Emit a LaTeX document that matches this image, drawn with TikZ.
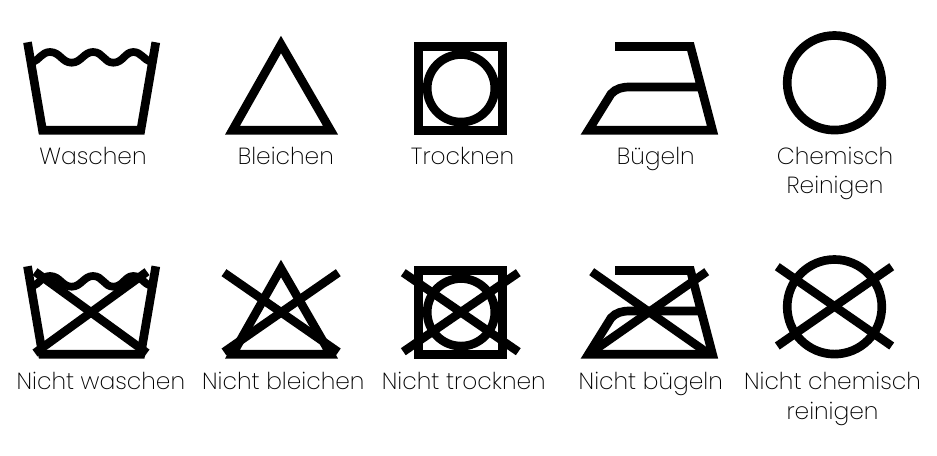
\documentclass[tikz,border=0pt]{standalone}
\usepackage{fontspec}
\setmainfont{Poppins}[UprightFont={* ExtraLight}]
\tikzset{
  sym/.style={draw=black,line width=6.5pt,miter limit=20,line join=miter,line cap=butt},
  wave/.style={draw=black,line width=5.8pt,line join=round},
  xbar/.style={draw=black,line width=6.4pt,line cap=butt},
  lab/.style={anchor=base,inner sep=0pt,font=\fontsize{17.5pt}{20pt}\selectfont,text=black},
  tub/.pic={
    \draw[sym] (27.5,42.3) -- (42.5,130.2) -- (140.8,130.2) -- (155.8,42.3);
    \draw[wave] (33,62) .. controls (39,60) and (42,52) .. (50,52)
      .. controls (60,52) and (62,62.7) .. (71.7,62.7)
      .. controls (81,62.7) and (84,52) .. (93,52)
      .. controls (103,52) and (104,62.7) .. (113.3,62.7)
      .. controls (123,62.7) and (125,52) .. (133.3,52)
      .. controls (141,52) and (144,60) .. (151,62);
  },
  tri/.pic={\draw[sym] (232.5,130.2) -- (281,44.5) -- (330.5,130.2) -- cycle;},
  sqc/.pic={
    \draw[sym] (418.5,46.5) rectangle (502.5,130.2);
    \draw[sym] (461,88.3) circle[radius=33.8];
  },
  iron/.pic={
    \draw[sym] (615,46.5) -- (690.5,46.5) -- (712.5,130.2) -- (588.5,130.2) -- (611,94)
      .. controls (616,88.5) and (622,87) .. (630,87) -- (701,87);
  },
  chem/.pic={\draw[sym] (834.5,82.8) circle[radius=47.3];},
}
\begin{document}
\begin{tikzpicture}[x=0.75pt,y=-0.75pt]
\useasboundingbox (0,0) rectangle (937,456);
\fill[white] (0,0) rectangle (937,456);
% top row
\pic at (0,0) {tub};
\pic at (0,0) {tri};
\pic at (0,0) {sqc};
\pic at (0,0) {iron};
\pic at (0,0) {chem};
\node[lab] (l1) at (93,164) {Waschen};
\node[lab] (l2) at (285.8,164) {Bleichen};
\node[lab] (l3) at (462.5,164) {Trocknen};
\node[lab] (l4) at (655.8,164) {Bügeln};
\node[lab] (l5) at (835,164) {Chemisch};
\node[lab] (l5b) at (835,193) {Reinigen};
% bottom row
\pic at (0,224) {tub};
\pic at (0,224) {tri};
\pic at (0,224) {sqc};
\pic at (0,224) {iron};
\pic at (0,224) {chem};
\draw[xbar] (35,271.7) -- (147,353);
\draw[xbar] (147,271.7) -- (35,353);
\draw[xbar] (224,272.7) -- (338.3,352);
\draw[xbar] (338.3,272.7) -- (224,352);
\draw[xbar] (403.3,272.7) -- (518.3,351.7);
\draw[xbar] (518.3,272.7) -- (403.3,351.7);
\draw[xbar] (591.7,271.7) -- (709,354);
\draw[xbar] (706.7,271.7) -- (589,354);
\draw[xbar] (777.3,266.7) -- (891.7,346);
\draw[xbar] (891.7,266.7) -- (777.3,346);
\node[lab] (n1) at (100.8,389) {Nicht waschen};
\node[lab] (n2) at (283.3,389) {Nicht bleichen};
\node[lab] (n3) at (463.8,389) {Nicht trocknen};
\node[lab] (n4) at (650.8,389) {Nicht bügeln};
\node[lab] (n5) at (832.5,389) {Nicht chemisch};
\node[lab] (n5b) at (832.5,419) {reinigen};
\end{tikzpicture}
\end{document}
